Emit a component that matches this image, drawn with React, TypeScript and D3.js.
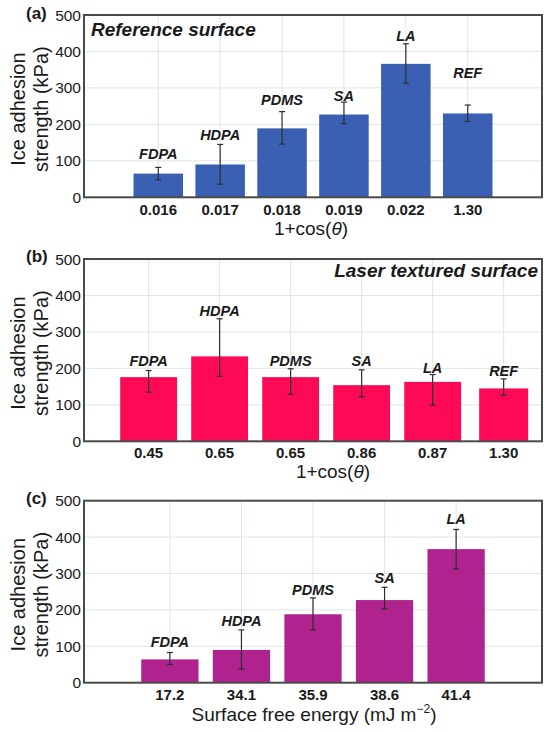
import React from "react";
import * as d3 from "d3";

// ---------- data ----------
const materialsA = ["FDPA", "HDPA", "PDMS", "SA", "LA", "REF"];
const ticksA = ["0.016", "0.017", "0.018", "0.019", "0.022", "1.30"];
const meanA = [65, 90, 189, 227, 366, 230];
const lowA = [48, 36, 146, 202, 313, 208];
const highA = [82, 145, 235, 261, 421, 253];
const labelA = [104, 157, 254, 265, 429, 328];

const materialsB = ["FDPA", "HDPA", "PDMS", "SA", "LA", "REF"];
const ticksB = ["0.45", "0.65", "0.65", "0.86", "0.87", "1.30"];
const meanB = [176, 233, 176, 154, 163, 145];
const lowB = [135, 178, 129, 122, 99, 126];
const highB = [194, 336, 199, 196, 183, 171];
const labelB = [206, 344, 207, 206, 188, 179];

const materialsC = ["FDPA", "HDPA", "PDMS", "SA", "LA"];
const ticksC = ["17.2", "34.1", "35.9", "38.6", "41.4"];
const meanC = [64, 90, 188, 227, 367];
const lowC = [50, 37, 145, 203, 313];
const highC = [83, 145, 233, 262, 421];
const labelC = [97, 156, 240, 273, 437];

const yTicks = [0, 100, 200, 300, 400, 500];

const FONT = "'Liberation Sans', Arial, Helvetica, sans-serif";

type PanelCfg = {
  tag: string;
  title: string;
  titleAnchor: "start" | "end";
  titleX: number;
  titleY: number;
  top: number;
  bottom: number;
  xDomain: [number, number];
  color: string;
  materials: string[];
  ticks: string[];
  mean: number[];
  low: number[];
  high: number[];
  labels: number[];
  barW: number[];
  xTitle: React.ReactNode;
  xTitleX: number;
  xTitleY: number;
  tickDy: number;
  tagY: number;
};

const LEFT = 84;
const RIGHT = 542;

function Panel({ c }: { c: PanelCfg }) {
  const x = d3.scaleLinear().domain(c.xDomain).range([LEFT, RIGHT]);
  const y = d3.scaleLinear().domain([0, 500]).range([c.bottom, c.top]);
  const unit = x(1) - x(0);
  const idx = c.mean.map((_, i) => i + 1);
  const midY = (c.top + c.bottom) / 2 + 3;
  return (
    <g>
      {/* grid */}
      {yTicks.slice(1, -1).map((t) => (
        <line key={"h" + t} x1={LEFT} x2={RIGHT} y1={y(t)} y2={y(t)} stroke="#dfe4e6" strokeWidth={1} />
      ))}
      {idx.map((k) => (
        <line key={"v" + k} x1={x(k)} x2={x(k)} y1={c.top} y2={c.bottom} stroke="#dfe4e6" strokeWidth={1} />
      ))}
      {/* bars */}
      {idx.map((k, i) => {
        const w = c.barW[i] * unit;
        return (
          <rect key={"b" + k} x={x(k) - w / 2} y={y(c.mean[i])} width={w} height={y(0) - y(c.mean[i])} fill={c.color} />
        );
      })}
      {/* error bars */}
      {idx.map((k, i) => (
        <g key={"e" + k} stroke="#2e2e2e" strokeWidth={1.2}>
          <line x1={x(k)} x2={x(k)} y1={y(c.low[i])} y2={y(c.high[i])} />
          <line x1={x(k) - 3} x2={x(k) + 3} y1={y(c.low[i])} y2={y(c.low[i])} />
          <line x1={x(k) - 3} x2={x(k) + 3} y1={y(c.high[i])} y2={y(c.high[i])} />
        </g>
      ))}
      {/* material labels */}
      {idx.map((k, i) => (
        <text key={"l" + k} x={x(k)} y={y(c.labels[i])} textAnchor="middle" fontFamily={FONT} fontWeight="bold" fontStyle="italic" fontSize={14.5} fill="#1a1a1a">
          {c.materials[i]}
        </text>
      ))}
      {/* frame */}
      <rect x={LEFT} y={c.top} width={RIGHT - LEFT} height={c.bottom - c.top} fill="none" stroke="#4a4a4a" strokeWidth={2} />
      {/* y ticks */}
      {yTicks.map((t) => (
        <text key={"yt" + t} x={81} y={y(t) + 5.5} textAnchor="end" fontFamily={FONT} fontSize={15.5} fill="#1a1a1a">
          {t}
        </text>
      ))}
      {/* x ticks */}
      {idx.map((k, i) => (
        <text key={"xt" + k} x={x(k)} y={c.bottom + c.tickDy} textAnchor="middle" fontFamily={FONT} fontWeight="bold" fontSize={15} fill="#1a1a1a">
          {c.ticks[i]}
        </text>
      ))}
      {/* panel title */}
      <text x={c.titleX} y={c.titleY} textAnchor={c.titleAnchor} fontFamily={FONT} fontWeight="bold" fontStyle="italic" fontSize={19} fill="#1a1a1a">
        {c.title}
      </text>
      {/* tag */}
      <text x={26} y={c.tagY} fontFamily={FONT} fontWeight="bold" fontSize={17} fill="#1a1a1a">
        {c.tag}
      </text>
      {/* y title */}
      <g transform={`translate(0,${midY}) rotate(-90)`}>
        <text x={0} y={25} textAnchor="middle" fontFamily={FONT} fontSize={20} fill="#1a1a1a">
          Ice adhesion
        </text>
        <text x={0} y={48} textAnchor="middle" fontFamily={FONT} fontSize={20} fill="#1a1a1a">
          strength (kPa)
        </text>
      </g>
      {/* x title */}
      <text x={c.xTitleX} y={c.xTitleY} textAnchor="middle" fontFamily={FONT} fontSize={19} fill="#1a1a1a">
        {c.xTitle}
      </text>
    </g>
  );
}

const cosTitle = (
  <>
    1+cos(<tspan fontStyle="italic">θ</tspan>)
  </>
);

const panels: PanelCfg[] = [
  {
    tag: "(a)",
    title: "Reference surface",
    titleAnchor: "start",
    titleX: 91,
    titleY: 36,
    top: 15,
    bottom: 197.3,
    xDomain: [-0.2, 7.2],
    color: "#3a5fb3",
    materials: materialsA,
    ticks: ticksA,
    mean: meanA,
    low: lowA,
    high: highA,
    labels: labelA,
    barW: [0.8, 0.8, 0.8, 0.8, 0.8, 0.8],
    xTitle: cosTitle,
    xTitleX: 311,
    xTitleY: 235,
    tickDy: 18,
    tagY: 19,
  },
  {
    tag: "(b)",
    title: "Laser textured surface",
    titleAnchor: "end",
    titleX: 538,
    titleY: 277,
    top: 259,
    bottom: 441.3,
    xDomain: [0.09, 6.54],
    color: "#fc0a55",
    materials: materialsB,
    ticks: ticksB,
    mean: meanB,
    low: lowB,
    high: highB,
    labels: labelB,
    barW: [0.8, 0.8, 0.8, 0.8, 0.8, 0.69],
    xTitle: cosTitle,
    xTitleX: 333,
    xTitleY: 477.5,
    tickDy: 17,
    tagY: 262,
  },
  {
    tag: "(c)",
    title: "",
    titleAnchor: "start",
    titleX: 91,
    titleY: 520,
    top: 500.7,
    bottom: 682.7,
    xDomain: [-0.2, 6.2],
    color: "#b0228e",
    materials: materialsC,
    ticks: ticksC,
    mean: meanC,
    low: lowC,
    high: highC,
    labels: labelC,
    barW: [0.8, 0.8, 0.8, 0.8, 0.8],
    xTitle: (
      <>
        Surface free energy (mJ m
        <tspan fontSize={12} dy={-8}>−2</tspan>
        <tspan dy={8}>)</tspan>
      </>
    ),
    xTitleX: 314,
    xTitleY: 720.5,
    tickDy: 17,
    tagY: 504,
  },
];

export default function App() {
  return (
    <svg width={550} height={732} style={{ position: "absolute", left: 0, top: 0, background: "#fff" }}>
      <rect x={0} y={0} width={550} height={732} fill="#fff" />
      {panels.map((p) => (
        <Panel key={p.tag} c={p} />
      ))}
    </svg>
  );
}
